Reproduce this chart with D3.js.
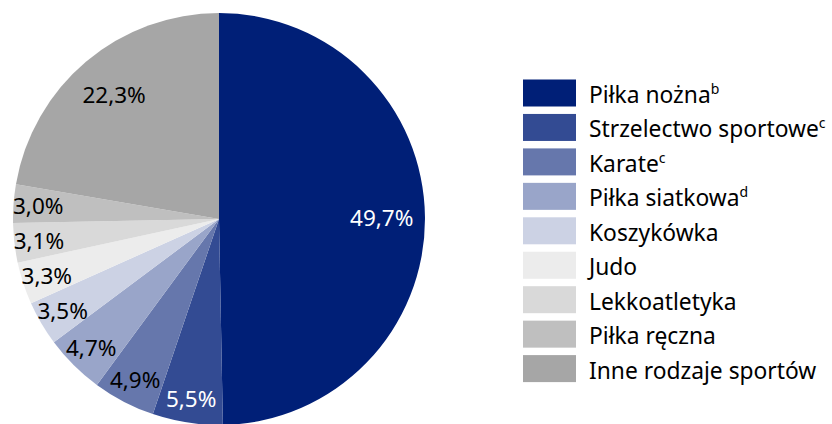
<!DOCTYPE html>
<html>
<head>
<meta charset="utf-8">
<script src="https://cdn.jsdelivr.net/npm/d3@7"></script>
<style>
  body { margin: 0; background: #fff; }
  svg text { font-family: "Noto Sans", sans-serif; }
</style>
</head>
<body>
<div id="chart"></div>
<script>
// Dane
const categories = ['Piłka nożna', 'Strzelectwo sportowe', 'Karate', 'Piłka siatkowa',
  'Koszykówka', 'Judo', 'Lekkoatletyka', 'Piłka ręczna', 'Inne rodzaje sportów'];
const footnotes = ['b', 'c', 'c', 'd', '', '', '', '', ''];
const values = [49.7, 5.5, 4.9, 4.7, 3.5, 3.3, 3.1, 3.0, 22.3];
const colors = ['#001f77', '#334b93', '#6677ac', '#99a5c9', '#ccd2e4',
  '#ececec', '#d9d9d9', '#bfbfbf', '#a6a6a6'];
const labelColors = ['#fff', '#fff', '#000', '#000', '#000', '#000', '#000', '#000', '#000'];

const width = 832, height = 424;
const cx = 219, cy = 219, radius = 206;

const svg = d3.select('#chart').append('svg')
  .attr('width', width)
  .attr('height', height);

const pie = d3.pie().sort(null).value(d => d.value);
const arc = d3.arc().innerRadius(0).outerRadius(radius);

const data = categories.map((c, i) => ({ name: c, value: values[i], i }));
const arcs = pie(data);

const g = svg.append('g').attr('transform', `translate(${cx},${cy})`);

g.selectAll('path')
  .data(arcs)
  .enter()
  .append('path')
  .attr('d', arc)
  .attr('fill', d => colors[d.data.i]);

// Etykiety procentowe
g.selectAll('.lbl')
  .data(arcs)
  .enter()
  .append('text')
  .attr('class', 'lbl')
  .attr('transform', d => {
    const r = d.data.value > 10 ? radius * 0.79 : radius * 0.88;
    const a = (d.startAngle + d.endAngle) / 2;
    return `translate(${Math.sin(a) * r},${-Math.cos(a) * r})`;
  })
  .attr('text-anchor', 'middle')
  .attr('dominant-baseline', 'central')
  .style('font-size', '22.5px')
  .style('fill', d => labelColors[d.data.i])
  .text(d => d3.format('.1f')(d.data.value).replace('.', ',') + '%');

// Legenda
const legend = svg.append('g').attr('transform', 'translate(523,93)');
const row = legend.selectAll('.row')
  .data(data)
  .enter()
  .append('g')
  .attr('transform', d => `translate(0,${d.i * 34.45})`);

row.append('rect')
  .attr('x', 0)
  .attr('y', -13.5)
  .attr('width', 53)
  .attr('height', 27)
  .attr('fill', d => colors[d.i]);

const t = row.append('text')
  .attr('x', 66)
  .attr('y', 10)
  .style('font-size', '22.8px')
  .style('fill', '#000');
t.append('tspan').text(d => d.name);
t.append('tspan')
  .attr('dy', -9)
  .style('font-size', '14px')
  .text(d => footnotes[d.i]);
</script>
</body>
</html>
